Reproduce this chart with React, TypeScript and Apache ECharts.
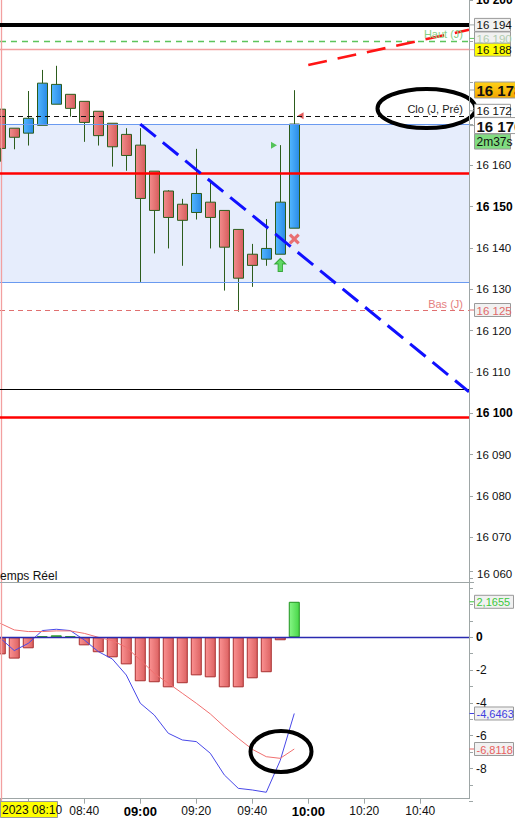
import { useEffect, useRef } from 'react';
import * as echarts from 'echarts';

const FONT = '"Liberation Sans", Arial, sans-serif';

// ---- candles (5 min) ----
const candleTimes = ['08:10','08:15','08:20','08:25','08:30','08:35','08:40','08:45','08:50','08:55','09:00','09:05','09:10','09:15','09:20','09:25','09:30','09:35','09:40','09:45','09:50','09:55'];
const candleOpen = [16173.6,16169.0,16167.8,16169.7,16174.8,16177.2,16175.5,16173.1,16170.2,16167.5,16164.9,16158.6,16153.8,16150.6,16148.6,16151.1,16149.1,16144.5,16138.5,16137.3,16138.5,16144.8];
const candleClose = [16164.1,16166.8,16171.4,16179.9,16179.6,16173.8,16170.4,16167.2,16164.5,16162.4,16152.0,16149.1,16147.4,16146.7,16153.2,16147.4,16140.2,16132.7,16135.8,16139.9,16151.1,16170.0];
const candleLow = [16160.9,16163.9,16164.8,16169.7,16174.8,16171.8,16165.7,16164.8,16159.7,16158.7,16131.8,16138.7,16139.9,16135.7,16146.9,16139.9,16129.7,16124.6,16130.6,16135.7,16138.5,16144.8];
const candleHigh = [16173.6,16169.0,16178.0,16183.1,16184.1,16177.2,16175.5,16173.1,16170.2,16169.0,16169.0,16158.6,16154.0,16151.9,16164.0,16155.9,16149.1,16144.5,16141.0,16147.0,16164.9,16178.2];

// ---- oscillator ----
const histogram = [-1.04,-1.30,-0.67,0.06,0.12,0.06,-0.49,-0.91,-1.22,-1.65,-2.68,-2.74,-3.05,-2.80,-2.32,-2.44,-3.05,-3.05,-2.50,-2.13,-0.18,2.1655];
const macdLine = [-0.05,-0.81,-0.37,0.41,0.49,0.41,-0.16,-0.87,-1.32,-2.30,-4.02,-4.74,-5.85,-6.26,-6.36,-7.07,-8.39,-9.21,-9.31,-9.45,-7.5,-4.6463];
const signalLine = [0.85,0.45,0.35,0.35,0.39,0.39,0.24,0.0,-0.20,-0.61,-1.38,-2.20,-2.80,-3.41,-4.02,-4.67,-5.45,-6.16,-6.83,-7.28,-7.38,-6.8118];

// ---- axes ----
const timeStart = '08:09:54';
const timeEnd = '10:57:24';
const xTickTimes = ['08:10','08:20','08:40','09:00','09:20','09:40','10:00','10:20','10:40'];
const xLabelTimes = ['08:40','09:00','09:20','09:40','10:00','10:20','10:40'];
const priceMin = 16060;
const priceMax = 16200;
const priceStep = 10;
const priceHiddenLabels = [16060, 16170, 16180, 16190];
const oscMin = -10;
const oscMax = 4;
const oscStep = 2;
const oscLabels = [0, -2, -4, -6, -8];

// ---- levels ----
const levelBlack = 16194;
const dayHigh = 16190;
const level188 = 16188;
const prevClose = 16172;
const zoneTop = 16170;
const zoneBottom = 16131.8;
const pivotRed = 16158;
const dayLow = 16125;
const levelBlackLow = 16105.8;
const levelRedLow = 16099;
const cursorTime = '08:10:30';
const lastHigh = 16178;
const lastPrice = 16170;
const countdown = '2m37s';
const dateLabel = '2023 08:10';

// ---- trend lines ----
const downTrend: [string, number][] = [['09:00', 16170.0], [timeEnd, 16105.2]];
const upTrend: [string, number][] = [['10:00', 16184.3], [timeEnd, 16192.8]];

// ---- signals ----
const sigUpTri: [string, number] = ['09:47:45', 16164.9];
const sigDownTri: [string, number] = ['09:57:15', 16172.0];
const buyArrow: [string, number] = ['09:50', 16135.9];
const sellCross: [string, number] = ['09:55', 16142.2];

// minutes since midnight
const T = (s: string) => {
  const [h, m, sec] = s.split(':');
  return +h * 60 + +m + (sec ? +sec / 60 : 0);
};
const fmtPrice = (v: number) => {
  const s = String(Math.round(v));
  return s.slice(0, s.length - 3) + ' ' + s.slice(s.length - 3);
};
const fmtOsc = (v: number) => v.toFixed(4).replace('.', ',');
const pad = (n: number) => (n < 10 ? '0' : '') + n;
const fmtTime = (v: number) => {
  const mins = Math.round(v);
  return pad(Math.floor(mins / 60)) + ':' + pad(mins % 60);
};

const hGrad = (a: string, b: string) => ({
  type: 'linear', x: 0, y: 0, x2: 1, y2: 0,
  colorStops: [{ offset: 0, color: a }, { offset: 1, color: b }],
});

export default function App() {
  const ref = useRef<HTMLDivElement>(null);
  useEffect(() => {
    const el = ref.current!;
    const chart = echarts.init(el, null, { renderer: 'svg' });
    const axisGray = '#9ea6a6';
    const hline = (y: number, color: string, width: number, type: any = 'solid') => ({
      yAxis: y, lineStyle: { color, width, type },
    });

    const option: any = {
      animation: false,
      backgroundColor: '#ffffff',
      textStyle: { fontFamily: FONT },
      grid: [
        { left: 0, right: 46, top: 0.1, height: 578.5, outerBoundsMode: 'none', containLabel: false },
        { left: 0, right: 46, top: 571.7, height: 229.6, outerBoundsMode: 'none', containLabel: false },
      ],
      xAxis: [
        { type: 'value', gridIndex: 0, min: T(timeStart), max: T(timeEnd), show: false, splitLine: { show: false } },
        {
          type: 'value', gridIndex: 1, min: T(timeStart), max: T(timeEnd), position: 'bottom', offset: -2.6,
          axisLine: { show: true, onZero: false, lineStyle: { color: axisGray, width: 1 } },
          axisTick: { show: true, length: 5, lineStyle: { color: axisGray }, customValues: xTickTimes.map(T) },
          axisLabel: {
            customValues: xLabelTimes.map(T), margin: 6, fontSize: 12, color: '#111', fontFamily: FONT,
            formatter: (v: number) => {
              const s = fmtTime(v);
              return s.endsWith(':00') ? '{b|' + s + '}' : s;
            },
            rich: { b: { fontWeight: 'bold', fontSize: 13, color: '#000', fontFamily: FONT } },
          },
          splitLine: { show: false },
        },
      ],
      yAxis: [
        {
          type: 'value', gridIndex: 0, position: 'right', min: priceMin, max: priceMax, interval: priceStep,
          axisLine: { show: false },
          axisTick: { show: true, length: 4, lineStyle: { color: axisGray } },
          axisLabel: {
            margin: 7, fontSize: 11.5, color: '#111', fontFamily: FONT,
            formatter: (v: number) => (priceHiddenLabels.indexOf(v) >= 0 ? '' : v % 50 === 0 ? '{b|' + fmtPrice(v) + '}' : fmtPrice(v)),
            rich: { b: { fontWeight: 'bold', fontSize: 12, color: '#000', fontFamily: FONT } },
          },
          splitLine: { show: false },
        },
        {
          type: 'value', gridIndex: 1, position: 'right', min: oscMin, max: oscMax, interval: oscStep,
          axisLine: { show: false },
          axisTick: { show: true, length: 4, lineStyle: { color: axisGray } },
          minorTick: { show: true, splitNumber: 2, length: 4, lineStyle: { color: axisGray } },
          axisLabel: {
            margin: 7, fontSize: 12, color: '#111', fontFamily: FONT,
            formatter: (v: number) => (oscLabels.indexOf(v) < 0 ? '' : v === 0 ? '{b|0}' : String(v)),
            rich: { b: { fontWeight: 'bold', fontSize: 12, color: '#000', fontFamily: FONT } },
          },
          splitLine: { show: false },
          minorSplitLine: { show: false },
        },
      ],
      series: [
        {
          type: 'line', xAxisIndex: 0, yAxisIndex: 0, data: [], z: 1, silent: true,
          markArea: {
            silent: true,
            itemStyle: { color: '#e6edfc', opacity: 1 },
            data: [[{ yAxis: zoneTop }, { yAxis: zoneBottom }]],
          },
          markLine: {
            silent: true, symbol: ['none', 'none'], label: { show: false },
            data: [
              hline(zoneTop, '#6a9af0', 1.2),
              hline(zoneBottom, '#6a9af0', 1.2),
              hline(prevClose, '#111', 1.2, [5, 4]),
              hline(dayHigh, '#5cc45c', 1.3, [6, 5]),
              hline(level188, '#f2a0a0', 1.3),
              hline(dayLow, '#e07070', 1.2, [5, 4]),
              { xAxis: T(cursorTime), lineStyle: { color: '#f2a0a0', width: 1.3, type: 'solid' } },
            ],
          },
        },
        {
          type: 'candlestick', xAxisIndex: 0, yAxisIndex: 0, z: 2, barWidth: 10,
          itemStyle: {
            color: hGrad('#52b6ff', '#2a8ae6'),
            color0: hGrad('#f28c8c', '#d65c5c'),
            borderColor: '#2c5c1c', borderColor0: '#2c5c1c', borderWidth: 1,
          },
          data: candleTimes.map((t, i) => [T(t), candleOpen[i], candleClose[i], candleLow[i], candleHigh[i]]),
        },
        {
          type: 'line', xAxisIndex: 0, yAxisIndex: 0, data: [], z: 3, silent: true,
          markLine: {
            silent: true, symbol: ['none', 'none'], label: { show: false },
            data: [
              hline(pivotRed, '#ff0000', 2.6),
              hline(levelRedLow, '#ff0000', 2.6),
              hline(levelBlack, '#000', 4),
              hline(levelBlackLow, '#000', 1.2),
              [
                { coord: [T(downTrend[0][0]), downTrend[0][1]], lineStyle: { color: '#1010ff', width: 3, type: [20, 9] } },
                { coord: [T(downTrend[1][0]), downTrend[1][1]] },
              ],
              [
                { coord: [T(upTrend[0][0]), upTrend[0][1]], lineStyle: { color: '#ff1515', width: 2.6, type: [19, 11] } },
                { coord: [T(upTrend[1][0]), upTrend[1][1]] },
              ],
            ],
          },
        },
        {
          type: 'scatter', xAxisIndex: 0, yAxisIndex: 0, z: 4, silent: true,
          data: [
            { value: [T(sigUpTri[0]), sigUpTri[1]], symbol: 'triangle', symbolSize: [7, 6], symbolRotate: -90, itemStyle: { color: '#2fb82f' } },
            { value: [T(sigDownTri[0]), sigDownTri[1]], symbol: 'triangle', symbolSize: [7, 6], symbolRotate: 90, itemStyle: { color: '#dd3030' } },
            { value: [T(buyArrow[0]), buyArrow[1]], symbol: 'path://M5,0 L10,6 L7,6 L7,14 L3,14 L3,6 L0,6 Z', symbolSize: [11, 13], itemStyle: { color: '#3fd23f', borderColor: '#1f9a1f', borderWidth: 1 } },
            { value: [T(sellCross[0]), sellCross[1]], symbol: 'path://M2,0 L5,3 L8,0 L10,2 L7,5 L10,8 L8,10 L5,7 L2,10 L0,8 L3,5 L0,2 Z', symbolSize: [11, 11], itemStyle: { color: '#e85050' } },
          ],
        },
        {
          type: 'bar', xAxisIndex: 1, yAxisIndex: 1, barWidth: 11, z: 2,
          data: candleTimes.map((t, i) => ({
            value: [T(t), histogram[i]],
            itemStyle: histogram[i] < 0
              ? { color: hGrad('#fb9292', '#dc6262'), borderColor: '#a83030', borderWidth: 1 }
              : { color: hGrad('#86f686', '#48d648'), borderColor: '#1f921f', borderWidth: 1 },
          })),
          markLine: {
            silent: true, symbol: ['none', 'none'], label: { show: false },
            data: [
              { yAxis: 0, lineStyle: { color: '#2a2ab0', width: 1.4, type: 'solid' } },
              { xAxis: T(cursorTime), lineStyle: { color: '#f2a0a0', width: 1.3, type: 'solid' } },
            ],
          },
        },
        {
          type: 'line', xAxisIndex: 1, yAxisIndex: 1, z: 3, symbol: 'none', silent: true,
          lineStyle: { color: '#4848e8', width: 1 },
          data: candleTimes.map((t, i) => [T(t), macdLine[i]]),
        },
        {
          type: 'line', xAxisIndex: 1, yAxisIndex: 1, z: 3, symbol: 'none', silent: true,
          lineStyle: { color: '#f07070', width: 1 },
          data: candleTimes.map((t, i) => [T(t), signalLine[i]]),
        },
      ],
    };
    chart.setOption(option);

    const py = (v: number) => chart.convertToPixel({ yAxisIndex: 0 } as any, v) as number;
    const oy = (v: number) => chart.convertToPixel({ yAxisIndex: 1 } as any, v) as number;
    const axisX = 469.5;

    const box = (cy: number, text: string, o: any = {}) => {
      const h = o.h ?? 13;
      const w = o.w ?? 36;
      const els: any[] = [
        { type: 'line', z: 100, shape: { x1: axisX, y1: cy, x2: 474, y2: cy }, style: { stroke: o.tick ?? axisGray, lineWidth: 1 } },
        { type: 'rect', z: 100, shape: { x: 474.5, y: cy - h / 2, width: w, height: h }, style: { fill: o.fill ?? '#f1f1f1', stroke: '#9a9a9a', lineWidth: 1 } },
        {
          type: 'text', z: 101, x: 476.5, y: cy + 0.5,
          style: { text, fill: o.color ?? '#111', fontSize: o.size ?? 11.5, fontWeight: o.bold ? 'bold' : 'normal', fontFamily: FONT, align: 'left', verticalAlign: 'middle' },
        },
      ];
      return els;
    };

    const graphics: any[] = [
      // axis frame
      { type: 'line', z: 90, shape: { x1: axisX, y1: 0, x2: axisX, y2: 799 }, style: { stroke: axisGray, lineWidth: 1 } },
      { type: 'line', z: 90, shape: { x1: 0, y1: 582.5, x2: 474, y2: 582.5 }, style: { stroke: axisGray, lineWidth: 1.2 } },
      { type: 'text', z: 61, x: 477, y: py(priceMin) - 4.5, style: { text: fmtPrice(priceMin), fill: '#111', fontSize: 11.5, fontFamily: FONT, align: 'left', verticalAlign: 'middle' } },
      // annotations
      { type: 'ellipse', z: 60, shape: { cx: 426.5, cy: 108.5, rx: 49, ry: 19.5 }, style: { fill: 'none', stroke: '#000', lineWidth: 4 } },
      { type: 'ellipse', z: 60, shape: { cx: 281, cy: 751.5, rx: 30.5, ry: 20.5 }, style: { fill: 'none', stroke: '#000', lineWidth: 4 } },
      { type: 'text', z: 61, x: 463, y: py(prevClose) - 7, style: { text: 'Clo (J, Pré)', fill: '#222', fontSize: 11, fontFamily: FONT, align: 'right', verticalAlign: 'middle' } },
      { type: 'text', z: 61, x: 463, y: py(dayHigh) - 7.5, style: { text: 'Haut (J)', fill: '#86d086', fontSize: 11, fontFamily: FONT, align: 'right', verticalAlign: 'middle' } },
      { type: 'text', z: 61, x: 463, y: py(dayLow) - 6.5, style: { text: 'Bas (J)', fill: '#e58080', fontSize: 11, fontFamily: FONT, align: 'right', verticalAlign: 'middle' } },
      { type: 'text', z: 61, x: 0, y: 576, style: { text: 'emps Réel', fill: '#111', fontSize: 12, fontFamily: FONT, align: 'left', verticalAlign: 'middle' } },
      // price boxes
      ...box(py(levelBlack), fmtPrice(levelBlack)),
      ...box(py(dayHigh) - 3, fmtPrice(dayHigh), { color: '#b0ccb0', tick: '#5cc45c' }),
      ...box(py(level188), fmtPrice(level188), { fill: '#ffff00', tick: '#f2a0a0' }),
      ...box(py(lastHigh) - 1, fmtPrice(lastHigh), { fill: { type: 'linear', x: 0, y: 0, x2: 0, y2: 1, colorStops: [{ offset: 0, color: '#ffd21a' }, { offset: 1, color: '#f2a600' }] }, bold: true, size: 15, w: 50, h: 16 }),
      ...box(py(prevClose) - 5, fmtPrice(prevClose), { fill: '#ffffff' }),
      ...box(py(lastPrice) + 1.5, fmtPrice(lastPrice), { fill: '#ffffff', bold: true, size: 15, w: 50, h: 16 }),
      ...box(py(lastPrice) + 17.5, countdown, { fill: '#80dc80', size: 12, h: 15, tick: 'rgba(0,0,0,0)' }),
      ...box(py(dayLow), fmtPrice(dayLow), { color: '#e06a6a', tick: '#e07070' }),
      // oscillator boxes
      ...box(oy(histogram[histogram.length - 1]), fmtOsc(histogram[histogram.length - 1]), { color: '#3cc83c', w: 39, size: 11, tick: '#3cc83c' }),
      ...box(oy(macdLine[macdLine.length - 1]), fmtOsc(macdLine[macdLine.length - 1]), { color: '#4040e0', w: 39, size: 11, tick: '#4040e0' }),
      ...box(oy(signalLine[signalLine.length - 1]), fmtOsc(signalLine[signalLine.length - 1]), { color: '#e86060', w: 39, size: 11, tick: '#e86060' }),
      // date box
      { type: 'rect', z: 100, shape: { x: 0.5, y: 801.5, width: 57, height: 16 }, style: { fill: '#ffff00', stroke: '#9a9a9a', lineWidth: 1 } },
      { type: 'text', z: 101, x: 2, y: 810, style: { text: dateLabel, fill: '#111', fontSize: 12, fontFamily: FONT, align: 'left', verticalAlign: 'middle' } },
    ];
    chart.setOption({ graphic: graphics });
    return () => chart.dispose();
  }, []);
  return <div ref={ref} style={{ position: 'fixed', left: 0, top: 0, width: 515, height: 819, background: '#fff' }} />;
}
